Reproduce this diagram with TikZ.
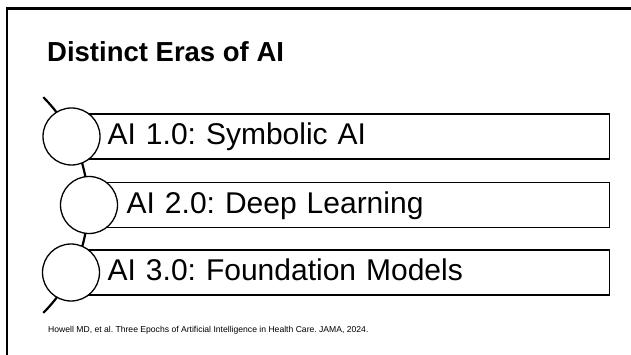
\documentclass[tikz,border=0pt]{standalone}
\usepackage{fontspec}
\setmainfont{Liberation Sans}
\usepackage{tikz}
\usetikzlibrary{positioning}
\frenchspacing

\begin{document}
\begin{tikzpicture}[x=1pt,y=1pt]
  \tikzstyle{dot}=[circle,draw=black,line width=1.3pt,fill=white,minimum size=57pt,inner sep=0pt]
  \tikzstyle{era}=[rectangle,draw=black,line width=1.3pt,minimum height=45pt,inner ysep=0pt,text height=21.5pt,text depth=5pt,align=left,font=\fontsize{30}{35}\selectfont]
  \useasboundingbox (0,0) rectangle (631,-355);
  \draw[line width=2.2pt] (7,-355) -- (7,-8.5) -- (631,-8.5);
  \node[anchor=base west,inner sep=0pt,font=\fontsize{27.5}{32}\selectfont\bfseries] (title) at (47,-62) {Distinct Eras of AI};
  % arc behind the circles
  \coordinate (top) at (43.3,-97.2);
  \draw[line width=2.2pt] (top) arc[start angle=45,end angle=-45,radius=152.5] coordinate (bottom);
  \coordinate (p1) at (71.5,-136.5);
  \coordinate (p2) at (89,-205);
  \coordinate (p3) at (71,-272.5);
  \node[era,right=0pt of p1,inner xsep=35.5pt,text width=466.5pt] (b1) {AI 1.0: Symbolic AI};
  \node[era,right=0pt of p2,inner xsep=37pt,text width=446pt] (b2) {AI 2.0: Deep Learning};
  \node[era,right=0pt of p3,inner xsep=36pt,text width=466pt] (b3) {AI 3.0: Foundation Models};
  \node[dot] (c1) at (p1) {};
  \node[dot] (c2) at (p2) {};
  \node[dot] (c3) at (p3) {};
  \node[anchor=base west,inner sep=0pt,font=\fontsize{8.6}{10}\selectfont] (cite) at (48,-332) {Howell MD, et al. Three Epochs of Artificial Intelligence in Health Care. JAMA, 2024.};
\end{tikzpicture}
\end{document}
